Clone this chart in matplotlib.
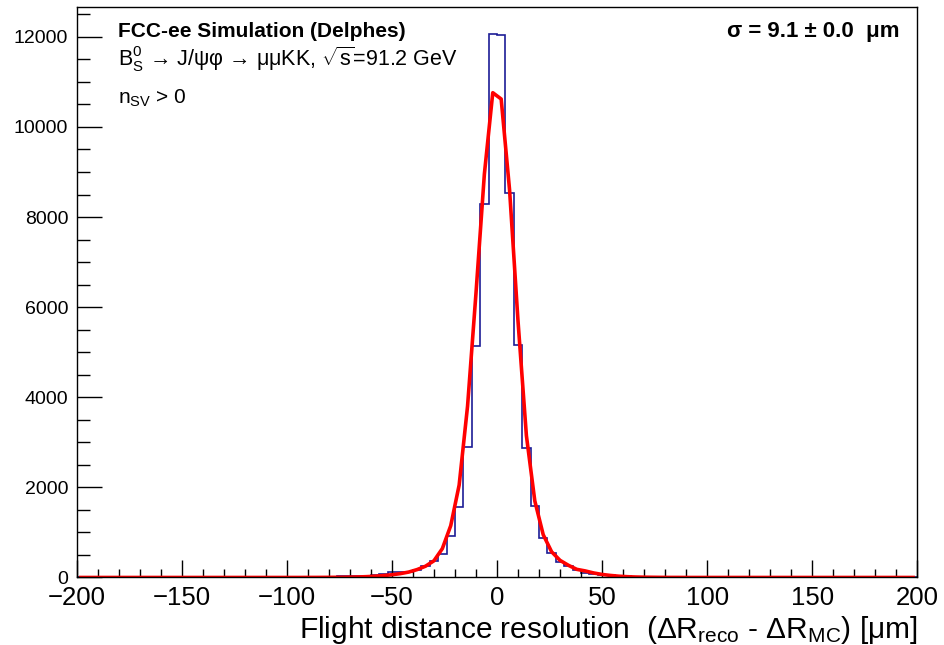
import numpy as np
import matplotlib
matplotlib.use("Agg")
import matplotlib.pyplot as plt

# ROOT-like look: Helvetica-ish text
plt.rcParams['font.family'] = ['Liberation Sans', 'DejaVu Sans']
plt.rcParams['mathtext.fontset'] = 'custom'
plt.rcParams['mathtext.rm'] = 'Liberation Sans'
plt.rcParams['mathtext.it'] = 'Liberation Sans:italic'
plt.rcParams['mathtext.bf'] = 'Liberation Sans:bold'

# histogram: 100 bins of 4 um between -200 and 200
x_min, x_max, n_bins = -200, 200, 100

# bin contents, bins centred at -198 ... -2
counts_left = [2, 1, 2, 2, 1, 2, 2, 3, 2, 3, 3, 2, 3, 3, 4, 3, 4, 4, 5, 4, 5, 6, 6, 7, 8,
               9, 10, 11, 13, 15, 18, 22, 26, 32, 40, 55, 80, 115, 118, 120, 163, 252, 362,
               515, 920, 1560, 2900, 5130, 8280, 12060]
# bins centred at 2 ... 198
counts_right = [12040, 8530, 5150, 2880, 1580, 870, 545, 345, 250, 158, 108, 80, 60, 44, 32,
                24, 18, 14, 11, 9, 7, 6, 5, 5, 4,
                4, 3, 4, 3, 3, 2, 3, 2, 2, 2, 1, 2, 2, 1, 1, 2, 1, 1, 1, 0, 1, 1, 0, 1, 1]

fit_left = [0] * 25 + [0, 0, 1, 1, 2, 3, 4, 7, 11, 18, 28, 42, 60, 85, 120, 175, 250, 370,
                       640, 1150, 2050, 3800, 6300, 8950, 10760]
fit_right = [10620, 8600, 5700, 3150, 1700, 950, 570, 380, 270, 180, 145, 100, 67, 45, 28,
             17, 10, 6, 4, 2, 1, 1, 0, 0, 0] + [0] * 25

sigma_text = "\u03c3 = 9.1 \u00b1 0.0  \u03bcm"

counts = np.array(counts_left + counts_right, dtype=float)
fit_vals = np.array(fit_left + fit_right, dtype=float)
edges = np.linspace(x_min, x_max, n_bins + 1)
centres = 0.5 * (edges[:-1] + edges[1:])

fig = plt.figure(figsize=(9.44, 6.45), dpi=100)
ax = fig.add_axes([0.0812, 0.1047, 0.8905, 0.8845])

ax.stairs(counts, edges, color='#1c1c96', lw=1.2, baseline=0)
ax.plot(centres, fit_vals, color='#ff0000', lw=2.6)

ax.set_xlim(x_min, x_max)
ax.set_ylim(0, counts.max() * 1.05)

ax.set_xticks(np.arange(-200, 201, 50))
ax.set_xticks(np.arange(-200, 201, 10), minor=True)
ax.set_yticks(np.arange(0, 12001, 2000))
ax.set_yticks(np.arange(0, 12600, 500), minor=True)
ax.set_xticklabels([f"{v}".replace('-', '\u2212') for v in range(-200, 201, 50)], fontsize=18.5)
ax.set_yticklabels([str(v) for v in range(0, 12001, 2000)], fontsize=14)

ax.tick_params(axis='x', which='major', direction='in', length=12.5, width=1, pad=6)
ax.tick_params(axis='x', which='minor', direction='in', length=6, width=1)
ax.tick_params(axis='y', which='major', direction='in', length=18, width=1, pad=6)
ax.tick_params(axis='y', which='minor', direction='in', length=9.5, width=1)
for s in ax.spines.values():
    s.set_linewidth(1)

ax.text(1.0, -0.106,
        "Flight distance resolution  (\u0394R$_\\mathregular{reco}$ - \u0394R$_\\mathregular{MC}$) [\u03bcm]",
        transform=ax.transAxes, ha='right', va='baseline', fontsize=21.5)

ax.text(0.049, 0.947, "FCC-ee Simulation (Delphes)", transform=ax.transAxes,
        fontsize=15, fontweight='bold', va='baseline')
ax.text(0.049, 0.8966,
        "B$_\\mathregular{S}^\\mathregular{0}$ \u2192 J/\u03c8\u03c6 \u2192 \u03bc\u03bcKK, "
        "$\\sqrt{\\mathregular{s}}$=91.2 GeV",
        transform=ax.transAxes, fontsize=15.5, va='baseline')
ax.text(0.049, 0.83, "n$_\\mathregular{SV}$ > 0", transform=ax.transAxes,
        fontsize=15, va='baseline')
ax.text(0.979, 0.947, sigma_text, transform=ax.transAxes, fontsize=16,
        fontweight='bold', ha='right', va='baseline')

fig.savefig("out.png", dpi=100)
